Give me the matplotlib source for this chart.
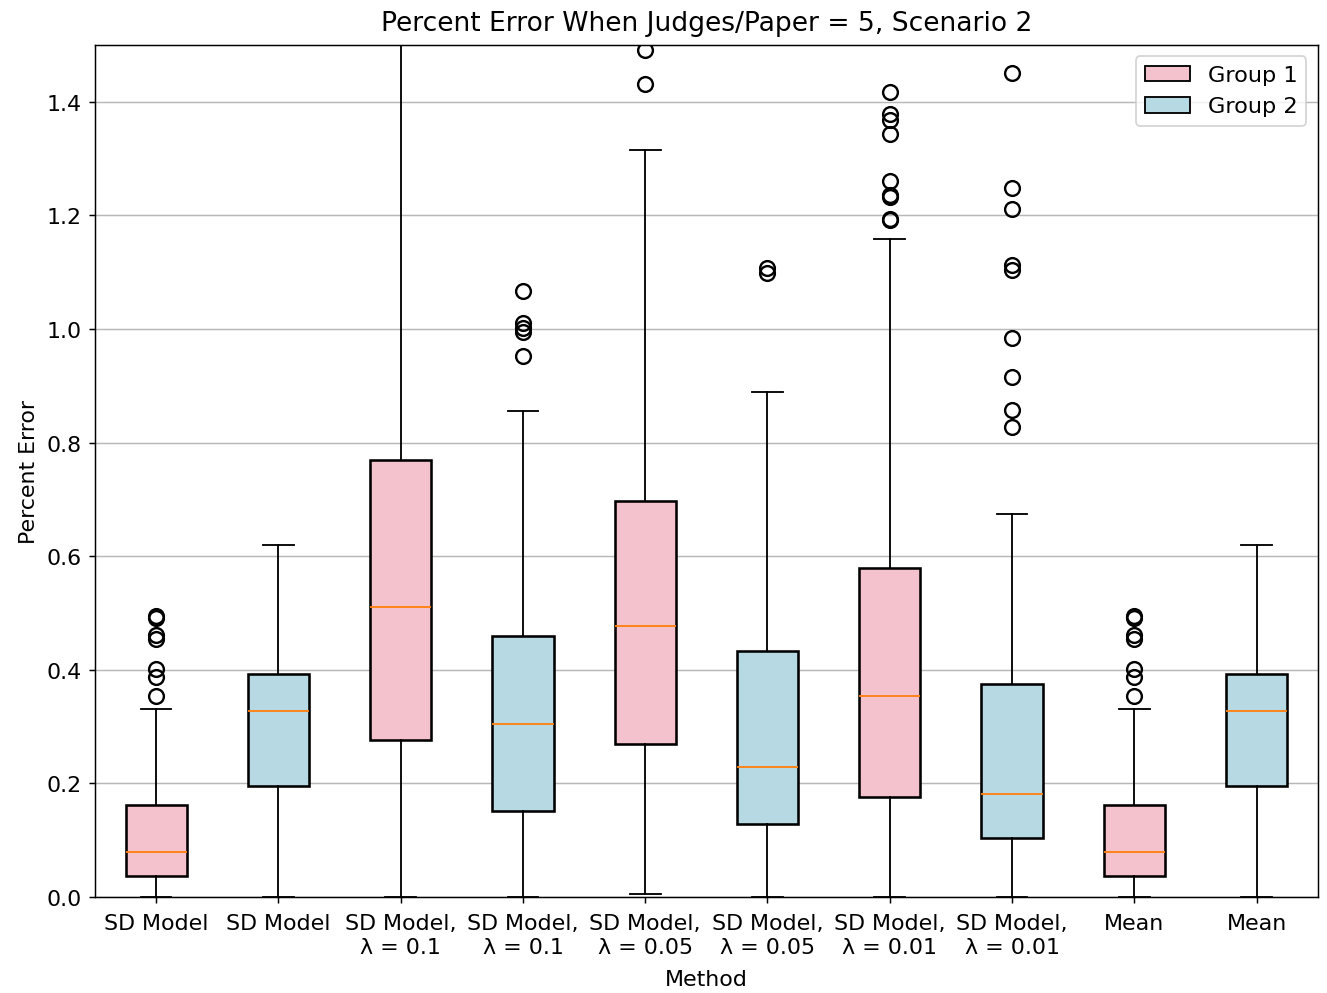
import matplotlib.pyplot as plt
from matplotlib.patches import Patch

# box statistics
labels = ["SD Model", "SD Model", "SD Model,\nλ = 0.1", "SD Model,\nλ = 0.1",
          "SD Model,\nλ = 0.05", "SD Model,\nλ = 0.05", "SD Model,\nλ = 0.01",
          "SD Model,\nλ = 0.01", "Mean", "Mean"]
groups = [1, 2, 1, 2, 1, 2, 1, 2, 1, 2]
q1 = [0.037, 0.195, 0.276, 0.151, 0.269, 0.128, 0.176, 0.104, 0.037, 0.195]
med = [0.079, 0.327, 0.510, 0.304, 0.478, 0.229, 0.354, 0.181, 0.079, 0.327]
q3 = [0.162, 0.392, 0.770, 0.459, 0.698, 0.433, 0.580, 0.375, 0.162, 0.392]
whislo = [0.0, 0.0, 0.0, 0.0, 0.005, 0.0, 0.0, 0.0, 0.0, 0.0]
whishi = [0.331, 0.619, 1.65, 0.856, 1.316, 0.890, 1.159, 0.675, 0.331, 0.619]
fliers = [
    [0.354, 0.387, 0.401, 0.454, 0.461, 0.492, 0.494],
    [],
    [],
    [0.953, 0.994, 1.002, 1.011, 1.067],
    [1.432, 1.491],
    [1.099, 1.108],
    [1.192, 1.194, 1.233, 1.236, 1.261, 1.344, 1.368, 1.379, 1.418],
    [0.827, 0.858, 0.915, 0.985, 1.104, 1.112, 1.212, 1.249, 1.451],
    [0.354, 0.387, 0.401, 0.454, 0.461, 0.492, 0.494],
    [],
]
colors = {1: "#f4c2cc", 2: "#b6d9e4"}

plt.rcParams["font.size"] = 12
plt.rcParams["lines.linewidth"] = 1.3

stats = []
for i in range(len(labels)):
    stats.append({"q1": q1[i], "med": med[i], "q3": q3[i],
                  "whislo": whislo[i], "whishi": whishi[i],
                  "fliers": fliers[i], "label": labels[i]})

fig = plt.figure(figsize=(10, 7.49), dpi=132.7)
ax = fig.add_axes([0.0716, 0.0966, 0.9214, 0.8571])

bp = ax.bxp(stats, patch_artist=True, widths=0.5,
            boxprops=dict(linewidth=1.4),
            flierprops=dict(markersize=8, markeredgewidth=1.3))
for patch, g in zip(bp["boxes"], groups):
    patch.set_facecolor(colors[g])

ax.set_ylim(0, 1.5)
ax.yaxis.grid(True, color="#b8b8b8")
ax.set_axisbelow(True)
ax.set_title("Percent Error When Judges/Paper = 5, Scenario 2", fontsize=14.4, pad=8)
ax.set_xlabel("Method", labelpad=6.5)
ax.set_ylabel("Percent Error")
ax.tick_params(labelsize=12)
ax.tick_params(axis="x", pad=5.5)

handles = [Patch(facecolor=colors[1], edgecolor="black", label="Group 1"),
           Patch(facecolor=colors[2], edgecolor="black", label="Group 2")]
ax.legend(handles=handles, loc="upper right", fontsize=12.2)

fig.savefig("out.png", dpi=132.7)
